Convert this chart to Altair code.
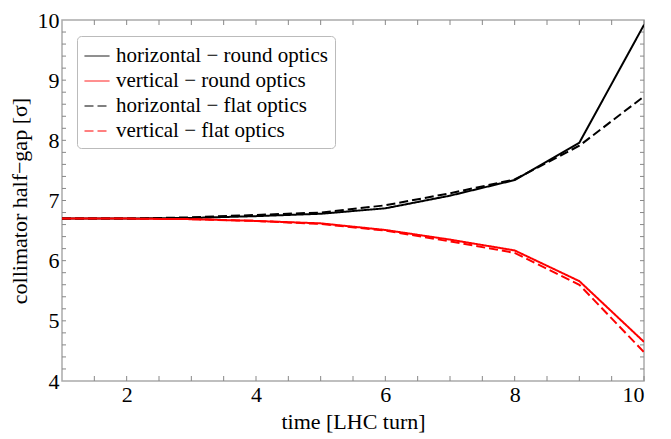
import altair as alt
import pandas as pd

turns = [1, 2, 3, 4, 5, 6, 7, 8, 9, 10]
h_round = [6.70, 6.70, 6.71, 6.74, 6.78, 6.87, 7.08, 7.34, 7.96, 9.92]
v_round = [6.70, 6.70, 6.69, 6.66, 6.62, 6.51, 6.35, 6.17, 5.66, 4.65]
h_flat = [6.70, 6.70, 6.72, 6.76, 6.80, 6.92, 7.12, 7.35, 7.91, 8.73]
v_flat = [6.70, 6.70, 6.69, 6.66, 6.61, 6.50, 6.32, 6.13, 5.60, 4.48]

series_names = ["horizontal − round optics", "vertical − round optics",
                "horizontal − flat optics", "vertical − flat optics"]
series_values = [h_round, v_round, h_flat, v_flat]
series_colors = ["black", "red", "black", "red"]
series_dash = [[1, 0], [1, 0], [9, 4], [9, 4]]

x_ticks = [1.5 + 0.5 * i for i in range(18)]
y_ticks = [round(4.2 + 0.2 * i, 1) for i in range(29)]

rows = []
for name, vals in zip(series_names, series_values):
    for t, v in zip(turns, vals):
        rows.append({"turn": t, "gap": v, "series": name})
df = pd.DataFrame(rows)

W, H = 582, 361
FONT = "Liberation Serif"

xscale = alt.Scale(domain=[1, 10], nice=False, zero=False)
yscale = alt.Scale(domain=[4, 10], nice=False, zero=False)

lines = alt.Chart(df).mark_line(strokeWidth=2, clip=True).encode(
    x=alt.X("turn:Q", scale=xscale,
            axis=alt.Axis(title="time [LHC turn]", values=[2, 4, 6, 8, 10], format="d",
                          ticks=False, labelPadding=3, titlePadding=6)),
    y=alt.Y("gap:Q", scale=yscale,
            axis=alt.Axis(title="collimator half−gap [σ]", values=[4, 5, 6, 7, 8, 9, 10],
                          format="d", ticks=False, labelPadding=3, titlePadding=6)),
    color=alt.Color("series:N", scale=alt.Scale(domain=series_names, range=series_colors),
                    legend=alt.Legend(title=None, orient="none", legendX=15, legendY=16,
                                      symbolType="stroke", symbolStrokeWidth=1,
                                      symbolSize=625, labelFontSize=21, labelFont=FONT,
                                      labelColor="black", labelOffset=6,
                                      rowPadding=2, padding=7, strokeColor="#bbbbbb",
                                      cornerRadius=4, fillColor="white", labelLimit=400)),
    strokeDash=alt.StrokeDash("series:N", scale=alt.Scale(domain=series_names, range=series_dash),
                              legend=None),
    order=alt.Order("turn:Q"),
)

xt = pd.DataFrame({"t": x_ticks})
yt = pd.DataFrame({"t": y_ticks})
tick_color = "#888888"
bt = alt.Chart(xt).mark_rule(color=tick_color, strokeWidth=1).encode(
    x=alt.X("t:Q", scale=xscale), y=alt.value(H), y2=alt.value(H - 5))
tt = alt.Chart(xt).mark_rule(color=tick_color, strokeWidth=1).encode(
    x=alt.X("t:Q", scale=xscale), y=alt.value(0), y2=alt.value(5))
lt = alt.Chart(yt).mark_rule(color=tick_color, strokeWidth=1).encode(
    y=alt.Y("t:Q", scale=yscale), x=alt.value(0), x2=alt.value(4))
rt = alt.Chart(yt).mark_rule(color=tick_color, strokeWidth=1).encode(
    y=alt.Y("t:Q", scale=yscale), x=alt.value(W), x2=alt.value(W - 4))

chart = alt.layer(bt, tt, lt, rt, lines).properties(
    width=W, height=H,
    autosize=alt.AutoSizeParams(type="none"),
    padding={"left": 54, "top": 12, "right": 19, "bottom": 58},
).configure_view(stroke="#aaaaaa", strokeWidth=1.5).configure_axis(
    grid=False, domain=False, labelFont=FONT, titleFont=FONT, labelFontSize=22,
    titleFontSize=22, labelColor="black", titleColor="black", titleFontWeight="normal",
)

chart.save("out.html", embed_options={"renderer": "svg", "actions": False})
